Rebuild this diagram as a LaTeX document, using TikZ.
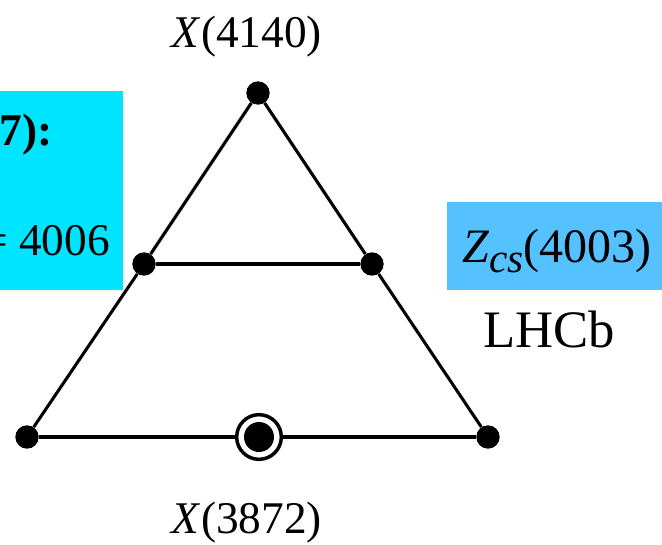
\documentclass[tikz,border=0pt]{standalone}
\usepackage{fontspec}
\setmainfont{Liberation Serif}
\definecolor{boxcyan}{RGB}{0,229,255}
\definecolor{boxblue}{RGB}{85,193,255}
\tikzset{
  vtx/.style={circle,fill=black,inner sep=0pt,minimum size=17.5pt},
  edge/.style={line width=2.3pt},
  lbl/.style={inner sep=0pt,font=\fontsize{34}{40}\selectfont},
}
\begin{document}
\begin{tikzpicture}[x=0.75pt,y=-0.75pt]
\useasboundingbox (0,0) rectangle (662,544);
\begin{scope}
\clip (0,0) rectangle (662,544);
% boxes
\fill[boxcyan] (-10,91) rectangle (123,290);
\fill[boxblue] (447,202) rectangle (672,290);
\node[lbl,anchor=base east,font=\fontsize{34}{40}\selectfont\bfseries] (l1) at (53,145) {7):};
\node[lbl,anchor=base east] (l2) at (110,255) {= 4006};
\end{scope}
% vertices
\node[vtx] (t) at (258,93) {};
\node[vtx] (ml) at (144,264) {};
\node[vtx] (mr) at (372,264) {};
\node[vtx] (bl) at (27,437) {};
\node[vtx] (br) at (488,437) {};
\node[circle,draw=black,line width=2.6pt,fill=white,inner sep=0pt,minimum size=33.5pt] (c) at (259,437) {};
\fill[black] (c.center) circle (15);
% edges
\draw[edge] (t) -- (ml);
\draw[edge] (ml) -- (bl);
\draw[edge] (t) -- (mr);
\draw[edge] (mr) -- (br);
\draw[edge] (ml) -- (mr);
\draw[edge] (bl) -- (c);
\draw[edge] (c) -- (br);
% labels
\node[lbl,anchor=base] (top) at (247,47) {\textit{X}(4140)};
\node[lbl,anchor=base] (bot) at (247,533) {\textit{X}(3872)};
\node[lbl,anchor=base,font=\fontsize{36}{42}\selectfont] (zcs) at (557,262) {\textit{Z}\raisebox{-0.22em}{\fontsize{31}{32}\selectfont\textit{cs}}(4003)};
\node[lbl,anchor=base,font=\fontsize{39.5}{44}\selectfont] (lhcb) at (549,347) {LHCb};
\end{tikzpicture}
\end{document}
